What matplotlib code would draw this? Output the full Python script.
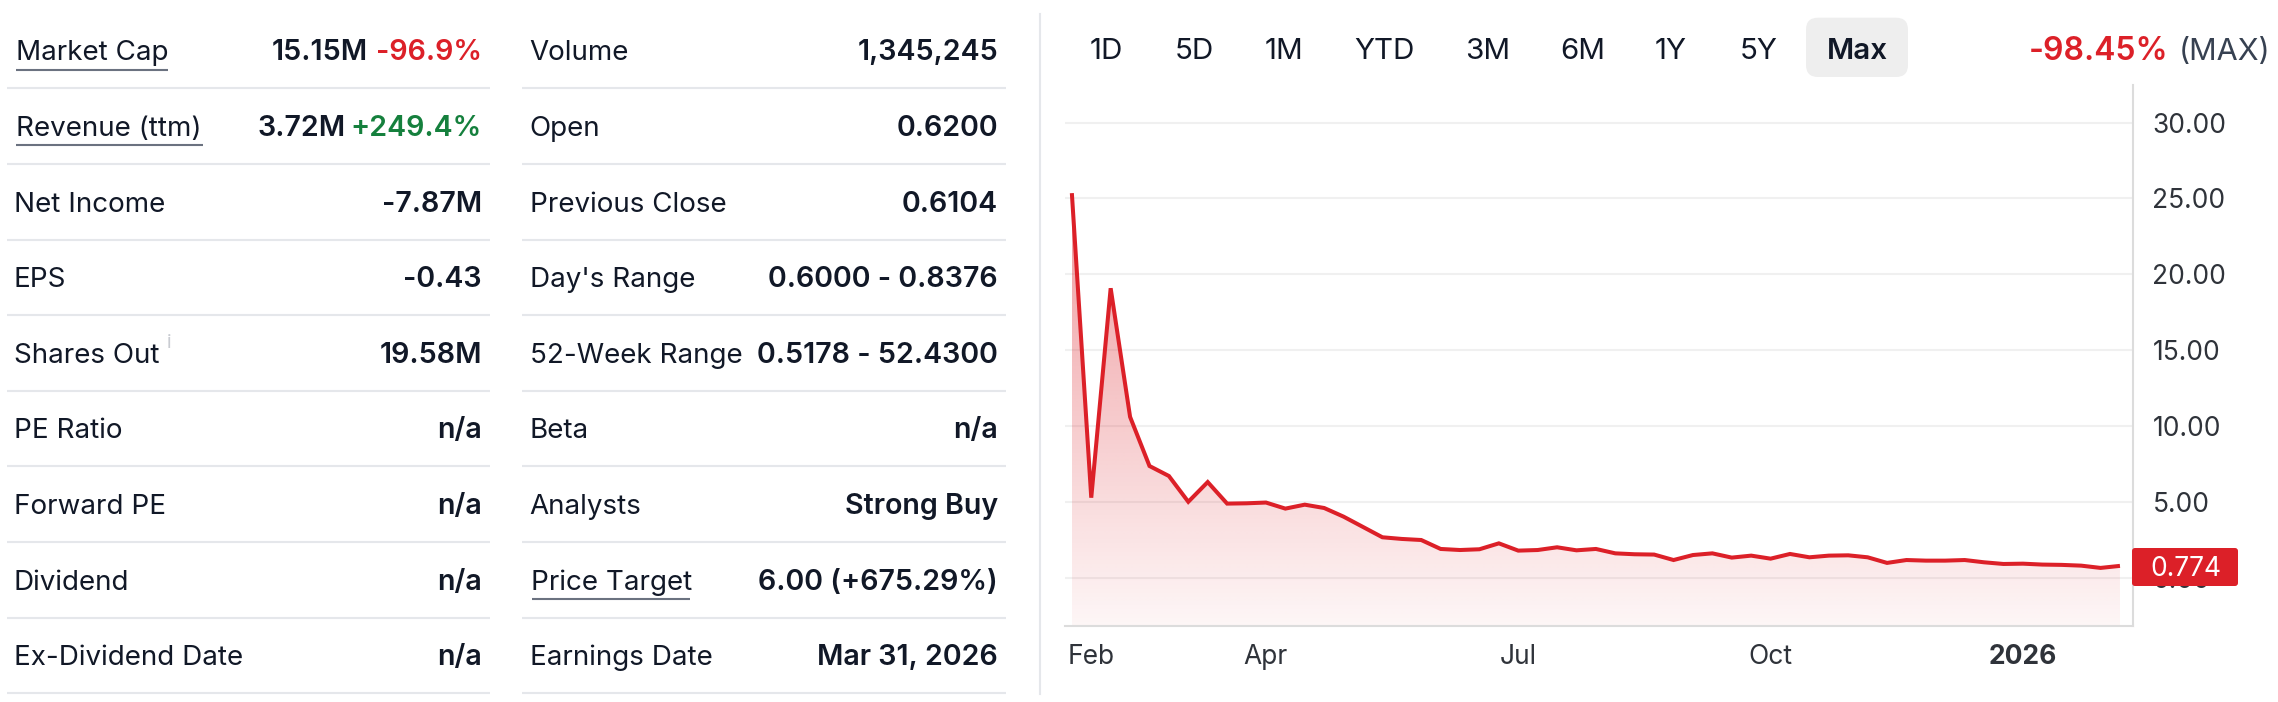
import numpy as np
import pandas as pd
import matplotlib
matplotlib.use("Agg")
import matplotlib.pyplot as plt
from matplotlib.patches import FancyBboxPatch, PathPatch, Rectangle
from matplotlib.path import Path

plt.rcParams['font.family'] = ['Inter', 'DejaVu Sans']

left_labels = ["Market Cap", "Revenue (ttm)", "Net Income", "EPS", "Shares Out", "PE Ratio",
               "Forward PE", "Dividend", "Ex-Dividend Date"]
left_values = ["15.15M", "3.72M", "-7.87M", "-0.43", "19.58M", "n/a", "n/a", "n/a", "n/a"]
right_labels = ["Volume", "Open", "Previous Close", "Day's Range", "52-Week Range", "Beta",
                "Analysts", "Price Target", "Earnings Date"]
right_values = ["1,345,245", "0.6200", "0.6104", "0.6000 - 0.8376", "0.5178 - 52.4300", "n/a",
                "Strong Buy", "6.00 (+675.29%)", "Mar 31, 2026"]
periods = ["1D", "5D", "1M", "YTD", "3M", "6M", "1Y", "5Y", "Max"]
period_centers = [1106, 1194, 1283.6, 1384, 1487.6, 1582.5, 1671, 1758.5, 1857.5]

prices = [25.35, 5.27, 19.08, 10.6, 7.36, 6.7, 5.0, 6.3, 4.88, 4.9, 4.95, 4.55, 4.81, 4.59,
          4.02, 3.34, 2.66, 2.55, 2.48, 1.89, 1.82, 1.87, 2.26, 1.78, 1.82, 2.0, 1.8, 1.89,
          1.6, 1.54, 1.52, 1.16, 1.49, 1.6, 1.32, 1.45, 1.25, 1.56, 1.34, 1.45, 1.47, 1.34,
          0.97, 1.16, 1.12, 1.12, 1.16, 1.01, 0.9, 0.92, 0.86, 0.84, 0.79, 0.64, 0.774]
dates = pd.date_range("2025-01-27", periods=len(prices), freq="7D")
y_ticks = [0, 5, 10, 15, 20, 25, 30]
x_tick_dates = pd.to_datetime(["2025-02-03", "2025-04-07", "2025-07-07", "2025-10-06", "2026-01-05"])
x_tick_labels = ["Feb", "Apr", "Jul", "Oct", "2026"]

W, H = 2278, 702
DARK = "#111827"
RED = "#dc2028"
GREEN = "#15803d"
fig = plt.figure(figsize=(W / 100, H / 100), dpi=100, facecolor="white")

# page layer in pixel coordinates
bg = fig.add_axes([0, 0, 1, 1], zorder=0)
bg.set_xlim(0, W)
bg.set_ylim(H, 0)
bg.axis("off")

seps = [88, 163.7, 239.7, 315, 390.7, 465.7, 541.7, 617.7, 693]
TS = 20
VS = 20.6
for i, s in enumerate(seps):
    bg.plot([6.6, 490], [s, s], color="#e5e7eb", lw=1.5, solid_capstyle="butt")
    bg.plot([522, 1006], [s, s], color="#e5e7eb", lw=1.5, solid_capstyle="butt")
    base = s - 28
    lx = 15.5 if i < 2 else 13.5
    bg.text(lx, base, left_labels[i], fontsize=TS, color=DARK, va="baseline", ha="left")
    rx = 531 if i == 7 else 529.5
    bg.text(rx, base, right_labels[i], fontsize=TS, color=DARK, va="baseline", ha="left")
    bg.text(998, base, right_values[i], fontsize=VS, color=DARK, va="baseline", ha="right", fontweight="semibold")
    if i == 0:
        bg.text(482, base, "-96.9%", fontsize=VS, color=RED, va="baseline", ha="right", fontweight="semibold")
        bg.text(367.5, base, left_values[i], fontsize=VS, color=DARK, va="baseline", ha="right", fontweight="semibold")
    elif i == 1:
        bg.text(482, base, "+249.4%", fontsize=VS, color=GREEN, va="baseline", ha="right", fontweight="semibold")
        bg.text(346, base, left_values[i], fontsize=VS, color=DARK, va="baseline", ha="right", fontweight="semibold")
    else:
        bg.text(482, base, left_values[i], fontsize=VS, color=DARK, va="baseline", ha="right", fontweight="semibold")

for x0, x1, yy in [(16, 168, 70), (16, 203, 145), (532, 690, 598.7)]:
    bg.plot([x0, x1], [yy, yy], color="#6b7280", lw=1.5, solid_capstyle="butt")
bg.text(169, 348, "i", fontsize=14, color="#c9ccd2", ha="center", va="baseline")
bg.plot([1039.5, 1039.5], [14, 694], color="#e5e7eb", lw=1.5)

# range buttons
bg.add_patch(FancyBboxPatch((1806 + 12, 17.7 + 12), 102 - 24, 59.3 - 24,
                            boxstyle="round,pad=12,rounding_size=12", fc="#eeeeee", ec="none"))
for lab, cx in zip(periods, period_centers):
    sel = lab == "Max"
    bg.text(cx, 59, lab, fontsize=21.3, color=DARK, ha="center", va="baseline",
            fontweight="semibold" if sel else "normal")
bg.text(2168.5, 59.5, "-98.45%", fontsize=23, color=RED, ha="right", va="baseline", fontweight="semibold")
bg.text(2179, 59.5, "(MAX)", fontsize=22, color="#374151", ha="left", va="baseline")

# chart
ax_l, ax_r, ax_t, ax_b = 1064.5, 2133, 85, 625.7
ax = fig.add_axes([ax_l / W, 1 - ax_b / H, (ax_r - ax_l) / W, (ax_b - ax_t) / H], zorder=1)
ax.patch.set_alpha(0)
ax.set_ylim(-3.17, 32.48)
t0 = dates[0] - pd.Timedelta(days=2.65)
t1 = dates[-1] + pd.Timedelta(days=4.7)
ax.set_xlim(t0, t1)

for sp in ["top", "left"]:
    ax.spines[sp].set_visible(False)
for sp in ["right", "bottom"]:
    ax.spines[sp].set_color("#dcdcdc")
    ax.spines[sp].set_linewidth(1.5)

ax.set_yticks(y_ticks)
ax.set_yticklabels([f"{v:.2f}" for v in y_ticks])
ax.yaxis.tick_right()
ax.tick_params(axis="y", length=0, pad=14, labelsize=19, labelcolor="#2f333a")
ax.set_xticks(x_tick_dates)
ax.set_xticklabels(x_tick_labels)
ax.tick_params(axis="x", length=0, pad=13, labelsize=19, labelcolor="#2f333a")
ax.get_xticklabels()[-1].set_fontweight("bold")
ax.grid(axis="y", color="#f0f0f0", lw=1.5, zorder=1)
ax.set_axisbelow(True)

# gradient fill under the line
x_num = matplotlib.dates.date2num(dates)
grad = np.zeros((256, 2, 4))
grad[..., 0] = 220 / 255
grad[..., 1] = 32 / 255
grad[..., 2] = 40 / 255
grad[..., 3] = np.linspace(0.45, 0.04, 256)[:, None]
im = ax.imshow(grad, extent=[x_num[0], x_num[-1], -3.17, max(prices)], origin="upper",
               aspect="auto", zorder=2, interpolation="bilinear")
ax.set_xlim(t0, t1)
ax.set_ylim(-3.17, 32.48)
verts = [(x_num[0], -3.17)] + list(zip(x_num, prices)) + [(x_num[-1], -3.17), (x_num[0], -3.17)]
clip = PathPatch(Path(verts), transform=ax.transData, fc="none", ec="none")
ax.add_patch(clip)
im.set_clip_path(clip)
ax.plot(dates, prices, color=RED, lw=2.9, zorder=3, solid_joinstyle="miter", solid_capstyle="butt")

# last-price tag on top of the axis labels
top = fig.add_axes([0, 0, 1, 1], zorder=2)
top.set_xlim(0, W)
top.set_ylim(H, 0)
top.axis("off")
top.patch.set_alpha(0)
top.add_patch(FancyBboxPatch((2132 + 3, 548 + 3), 106 - 6, 38 - 6,
                             boxstyle="round,pad=3,rounding_size=3", fc=RED, ec="none"))
top.text(2186, 576, f"{prices[-1]:.3f}", color="white", fontsize=19, ha="center", va="baseline")

fig.savefig("out.png", dpi=100)
